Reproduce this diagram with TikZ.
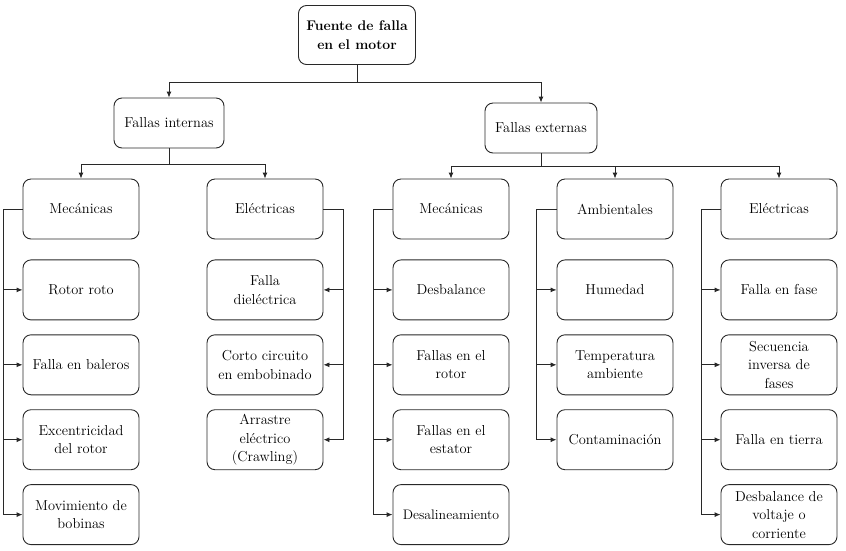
\documentclass[tikz,border=0pt]{standalone}
\usetikzlibrary{arrows.meta, positioning}
\definecolor{boxline}{RGB}{40,40,40}

\tikzset{
  box/.style={draw=boxline, line width=0.9pt, rounded corners=8pt, minimum width=116pt,
    minimum height=60pt, align=center, inner sep=2pt, font=\fontsize{14.4}{18.5}\selectfont},
  head/.style={box, minimum width=110pt, minimum height=50pt},
  wire/.style={draw=boxline, line width=0.9pt},
  link/.style={wire, -{Latex[length=6pt,width=5pt]}},
}

\begin{document}
\begin{tikzpicture}[x=1pt, y=-1pt, node distance=14pt]
\useasboundingbox (0,0) rectangle (846,550);

% top
\node[box, minimum width=117pt, minimum height=59pt,
  font=\bfseries\fontsize{14}{19}\selectfont] (root) at (357,35) {Fuente de falla\\en el motor};
\node[head] (intern) at (169,123) {Fallas internas};
\node[head, minimum width=112pt] (extern) at (541,128) {Fallas externas};

% groups
\node[box] (mecI) at (81,209) {Mecánicas};
\node[box] (eleI) at (265,209) {Eléctricas};
\node[box] (mecE) at (451,209) {Mecánicas};
\node[box] (amb) at (615,209) {Ambientales};
\node[box] (eleE) at (779,209) {Eléctricas};

% fallas internas: mecanicas
\node[box, below=20pt of mecI] (rotor) {Rotor roto};
\node[box, below=of rotor] (baleros) {Falla en baleros};
\node[box, below=of baleros] (excen) {Excentricidad\\del rotor};
\node[box, below=of excen] (bobinas) {Movimiento de\\bobinas};

% fallas internas: electricas
\node[box, below=20pt of eleI] (dielec) {Falla\\dieléctrica};
\node[box, below=of dielec] (corto) {Corto circuito\\en embobinado};
\node[box, below=of corto] (crawl) {Arrastre\\eléctrico\\(Crawling)};

% fallas externas: mecanicas
\node[box, below=20pt of mecE] (desbal) {Desbalance};
\node[box, below=of desbal] (frotor) {Fallas en el\\rotor};
\node[box, below=of frotor] (festator) {Fallas en el\\estator};
\node[box, below=of festator, font=\fontsize{13.8}{19}\selectfont] (desal) {Desalineamiento};

% fallas externas: ambientales
\node[box, below=20pt of amb] (humedad) {Humedad};
\node[box, below=of humedad] (temp) {Temperatura\\ambiente};
\node[box, below=of temp] (contam) {Contaminación};

% fallas externas: electricas
\node[box, below=20pt of eleE] (fase) {Falla en fase};
\node[box, below=of fase] (secuencia) {Secuencia\\inversa de\\fases};
\node[box, below=of secuencia] (tierra) {Falla en tierra};
\node[box, below=of tierra] (voltaje) {Desbalance de\\voltaje o\\corriente};

% tree links
\draw[link] (root.south) -- ++(0,17) -| (intern.north);
\draw[link] (root.south) -- ++(0,17) -| (extern.north);
\draw[link] (intern.south) -- ++(0,16) -| (mecI.north);
\draw[link] (intern.south) -- ++(0,16) -| (eleI.north);
\foreach \g in {mecE, amb, eleE}
  \draw[link] (extern.south) -- ++(0,13) -| (\g.north);

% side buses
\draw[wire] (mecI.west) -- ++(-19,0) coordinate (busA);
\foreach \n in {rotor, baleros, excen, bobinas}
  \draw[link] (busA) |- (\n.west);
\draw[wire] (eleI.east) -- ++(20,0) coordinate (busB);
\foreach \n in {dielec, corto, crawl}
  \draw[link] (busB) |- (\n.east);
\draw[wire] (mecE.west) -- ++(-19,0) coordinate (busC);
\foreach \n in {desbal, frotor, festator, desal}
  \draw[link] (busC) |- (\n.west);
\draw[wire] (amb.west) -- ++(-20,0) coordinate (busD);
\foreach \n in {humedad, temp, contam}
  \draw[link] (busD) |- (\n.west);
\draw[wire] (eleE.west) -- ++(-19,0) coordinate (busE);
\foreach \n in {fase, secuencia, tierra, voltaje}
  \draw[link] (busE) |- (\n.west);
\end{tikzpicture}
\end{document}
